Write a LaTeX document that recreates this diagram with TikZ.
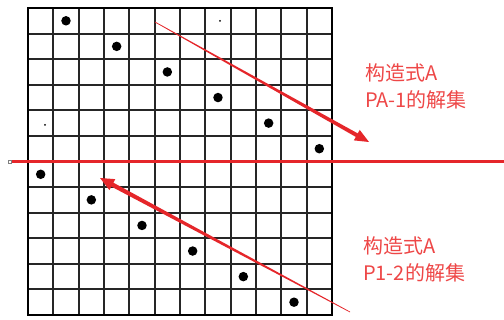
\documentclass[tikz,border=0pt]{standalone}
\usepackage{fontspec}
\newfontfamily\cjk{Noto Sans CJK SC}
\usetikzlibrary{calc}
\definecolor{redline}{HTML}{E5262A}
\definecolor{redtext}{HTML}{EE4747}
\newcommand\taperarrow[5]{%
  \coordinate (tmpH) at ($(#2)!14pt!(#1)$);
  \fill[redline] ($(#1)!#3!90:(#2)$) -- ($(tmpH)!#4!90:(#2)$) -- ($(tmpH)!#5!90:(#2)$) -- (#2)
    -- ($(tmpH)!#5!-90:(#2)$) -- ($(tmpH)!#4!-90:(#2)$) -- ($(#1)!#3!-90:(#2)$) -- cycle;}
\begin{document}
\begin{tikzpicture}[x=1pt,y=-1pt,
  gridline/.style={line width=1.9pt,draw=black!85},
  dotnode/.style={circle,fill=black,inner sep=0pt,minimum size=9.5pt},
  speck/.style={circle,fill=black,inner sep=0pt,minimum size=2pt},
  lbl/.style={text=redtext,font=\cjk\fontsize{20}{27}\selectfont,align=left,anchor=west,inner sep=0pt}]
\useasboundingbox (0,0) rectangle (504,320);
\fill[white] (0,0) rectangle (504,320);
\foreach \i in {1,...,11} {
  \draw[gridline] ({28+\i*25.333},8) -- ({28+\i*25.333},315);
  \draw[gridline] (28,{8+\i*25.583}) -- (332,{8+\i*25.583});
}
\draw[line width=2.8pt] (28,8) rectangle (332,315);
\foreach \r/\c in {1/2,2/4,3/6,4/8,5/10,6/12,7/1,8/3,9/5,10/7,11/9,12/11}
  \node[dotnode] (d\r) at ({28+(\c-0.5)*25.333},{8+(\r-0.5)*25.583}) {};
\node[speck] (s1) at (45,125) {};
\node[speck] (s2) at (220,21) {};
% horizontal red line
\coordinate (hl) at (10,162);
\coordinate (hr) at (504,162);
\draw[redline,line width=3pt] (hl) -- (hr);
\node[draw=gray,fill=white,inner sep=0pt,minimum size=3pt] (mk) at (hl) {};
% arrows
\coordinate (a1tail) at (155,22);
\coordinate (a1tip) at (369,142);
\taperarrow{a1tail}{a1tip}{0.35pt}{2pt}{6pt}
\coordinate (a2tail) at (350,312);
\coordinate (a2tip) at (100,178);
\taperarrow{a2tail}{a2tip}{0.35pt}{2.2pt}{6.2pt}
% labels
\node[lbl] (t1) at (365,86.5) {构造式A\\PA-1的解集};
\node[lbl] (t2) at (363,259.5) {构造式A\\P1-2的解集};
\end{tikzpicture}
\end{document}
